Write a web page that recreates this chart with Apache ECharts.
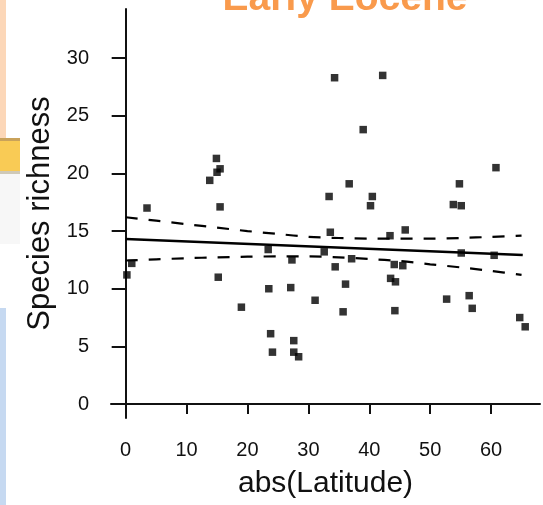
<!DOCTYPE html>
<html>
<head>
<meta charset="utf-8">
<script src="https://cdn.jsdelivr.net/npm/echarts@6/dist/echarts.min.js"></script>
<style>
html,body{margin:0;padding:0;background:#fff;}
#chart{width:543px;height:505px;}
</style>
</head>
<body>
<div id="chart"></div>
<script>
// ---- data ----
var chartTitle = 'Early Eocene';
var xAxisTitle = 'abs(Latitude)';
var yAxisTitle = 'Species richness';
var xTicks = [0, 10, 20, 30, 40, 50, 60];
var yTicks = [0, 5, 10, 15, 20, 25, 30];

var latitude = [0.2, 1.0, 3.5, 13.8, 14.9, 15.0, 15.5, 15.5, 15.2, 19.0,
  23.4, 23.5, 23.8, 24.1, 27.3, 27.1, 27.6, 27.6, 28.4, 31.1,
  32.6, 33.4, 33.6, 34.3, 34.4, 35.7, 36.1, 36.7, 37.1, 39.0,
  40.2, 40.5, 42.2, 43.4, 44.1, 45.5, 43.5, 44.3, 44.2, 45.9,
  52.7, 53.8, 55.1, 54.8, 55.1, 56.4, 56.9, 60.5, 60.8, 64.7, 65.6];
var richness = [11.2, 12.2, 17.0, 19.4, 21.3, 20.1, 20.4, 17.1, 11.0, 8.4,
  13.4, 10.0, 6.1, 4.5, 12.5, 10.1, 5.5, 4.5, 4.1, 9.0,
  13.2, 18.0, 14.9, 28.3, 11.9, 8.0, 10.4, 19.1, 12.6, 23.8,
  17.2, 18.0, 28.5, 14.6, 12.1, 12.0, 10.9, 10.6, 8.1, 15.1,
  9.1, 17.3, 17.2, 19.1, 13.1, 9.4, 8.3, 12.9, 20.5, 7.5, 6.7];

var fitLat = [0, 65.2];
var fitVal = [14.31, 12.92];

var ciLat   = [0, 5, 10, 15, 20, 25, 30, 35, 40, 45, 50, 55, 60, 65];
var ciUpper = [16.2, 15.9, 15.6, 15.3, 15.0, 14.75, 14.5, 14.4, 14.35, 14.35, 14.35, 14.4, 14.5, 14.6];
var ciLower = [12.45, 12.55, 12.65, 12.72, 12.78, 12.8, 12.8, 12.72, 12.58, 12.4, 12.12, 11.85, 11.55, 11.2];

function pairs(xs, ys) { return xs.map(function (x, i) { return [x, ys[i]]; }); }

var chart = echarts.init(document.getElementById('chart'), null, {renderer: 'canvas'});
var fontFam = '"Liberation Sans", Arial, sans-serif';

var option = {
  backgroundColor: '#ffffff',
  animation: false,
  grid: {left: 111, right: 3, top: 9, bottom: 87, containLabel: false},
  xAxis: {
    type: 'value',
    min: -2.41, max: 68.03,
    name: xAxisTitle,
    nameLocation: 'middle',
    nameGap: 51,
    nameTextStyle: {fontFamily: fontFam, fontSize: 30, color: '#111'},
    splitLine: {show: false},
    axisLine: {show: true, lineStyle: {color: '#111', width: 2}},
    axisTick: {show: true, customValues: xTicks, length: 10, lineStyle: {color: '#111', width: 2}},
    axisLabel: {show: true, customValues: xTicks, margin: 22, fontFamily: fontFam, fontSize: 20, color: '#111'}
  },
  yAxis: {
    type: 'value',
    min: -1.21, max: 34.26,
    name: yAxisTitle,
    nameLocation: 'middle',
    nameGap: 55,
    nameRotate: 90,
    nameTextStyle: {fontFamily: fontFam, fontSize: 31, color: '#111'},
    splitLine: {show: false},
    axisLine: {show: true, lineStyle: {color: '#111', width: 2}},
    axisTick: {show: true, customValues: yTicks, length: 14, lineStyle: {color: '#111', width: 2}},
    axisLabel: {show: true, customValues: yTicks, margin: 22, fontFamily: fontFam, fontSize: 20, color: '#111'}
  },
  graphic: [
    {type: 'rect', shape: {x: 0, y: 0, width: 6, height: 138}, style: {fill: '#FCD7B8'}, silent: true},
    {type: 'rect', shape: {x: 0, y: 138, width: 20, height: 3}, style: {fill: '#C9A25A'}, silent: true},
    {type: 'rect', shape: {x: 0, y: 141, width: 20, height: 30}, style: {fill: '#F9CB55'}, silent: true},
    {type: 'rect', shape: {x: 0, y: 171, width: 20, height: 3}, style: {fill: '#CFC9B8'}, silent: true},
    {type: 'rect', shape: {x: 0, y: 174, width: 20, height: 70}, style: {fill: '#F7F7F7'}, silent: true},
    {type: 'rect', shape: {x: 0, y: 308, width: 6, height: 197}, style: {fill: '#C6D9F1'}, silent: true},
    {type: 'text', x: 345, y: -1, silent: true,
     style: {text: chartTitle, align: 'center', verticalAlign: 'middle',
             font: 'bold 39px "Liberation Sans", Arial, sans-serif', fill: '#F99A4C'}}
  ],
  series: [
    {
      type: 'scatter',
      data: pairs(latitude, richness),
      symbol: 'rect',
      symbolSize: 7.5,
      itemStyle: {color: '#000'},
      z: 2
    },
    {
      type: 'line',
      data: pairs(fitLat, fitVal),
      showSymbol: false,
      lineStyle: {color: '#000', width: 2.5},
      z: 3
    },
    {
      type: 'line',
      data: pairs(ciLat, ciUpper),
      showSymbol: false,
      smooth: 0.3,
      lineStyle: {color: '#000', width: 2.2, type: [12, 11]},
      z: 3
    },
    {
      type: 'line',
      data: pairs(ciLat, ciLower),
      showSymbol: false,
      smooth: 0.3,
      lineStyle: {color: '#000', width: 2.2, type: [12, 11]},
      z: 3
    }
  ]
};
chart.setOption(option);
</script>
</body>
</html>
